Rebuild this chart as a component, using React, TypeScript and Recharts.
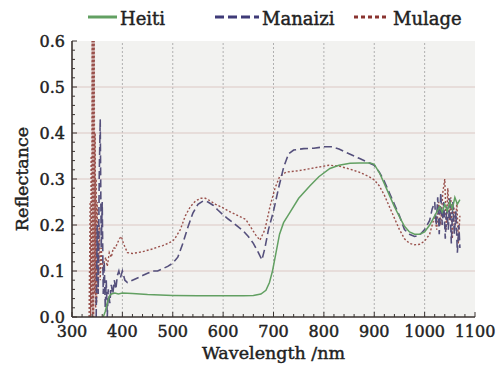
import React from "react";
import { CartesianGrid, Line, LineChart, ReferenceLine, XAxis, YAxis } from "recharts";

// wavelength (nm) / reflectance pairs
const heitiNm = [362, 366, 370, 374, 378, 385, 392, 400, 420, 450, 500, 550, 600, 640, 660, 675, 685, 692, 698, 705, 712, 720, 733, 750, 772, 790, 812, 830, 852, 870, 892, 900, 911, 920, 930, 940, 950, 960, 970, 980, 990, 1000, 1010, 1020, 1030, 1035, 1040, 1045, 1050, 1055, 1060, 1065, 1070];
const heitiR = [0, 0.012, 0.03, 0.045, 0.05, 0.052, 0.05, 0.052, 0.051, 0.049, 0.047, 0.046, 0.046, 0.046, 0.047, 0.05, 0.058, 0.075, 0.1, 0.14, 0.18, 0.205, 0.228, 0.258, 0.285, 0.305, 0.323, 0.33, 0.334, 0.335, 0.335, 0.332, 0.312, 0.29, 0.265, 0.24, 0.218, 0.197, 0.185, 0.18, 0.18, 0.185, 0.2, 0.22, 0.24, 0.228, 0.245, 0.23, 0.25, 0.235, 0.26, 0.245, 0.255];

const manaiziNm = [348, 350, 352, 354, 356, 358, 360, 362, 364, 366, 368, 370, 372, 375, 378, 381, 384, 387, 390, 393, 396, 400, 405, 410, 420, 430, 440, 450, 460, 470, 480, 490, 500, 510, 520, 530, 540, 550, 560, 570, 580, 590, 600, 610, 620, 630, 640, 650, 660, 670, 677, 683, 690, 700, 710, 720, 730, 740, 760, 780, 800, 815, 830, 850, 870, 890, 900, 910, 920, 930, 940, 950, 960, 970, 980, 990, 1000, 1010, 1015, 1020, 1023, 1026, 1029, 1032, 1035, 1038, 1041, 1044, 1047, 1050, 1053, 1056, 1059, 1062, 1065, 1068, 1070];
const manaiziR = [0, 0.2, 0.05, 0.3, 0.43, 0.15, 0.25, 0.05, 0.12, 0.02, 0.08, 0, 0.06, 0.03, 0.07, 0.05, 0.08, 0.06, 0.09, 0.1, 0.085, 0.1, 0.08, 0.075, 0.08, 0.085, 0.09, 0.095, 0.1, 0.1, 0.105, 0.11, 0.117, 0.13, 0.16, 0.195, 0.226, 0.245, 0.252, 0.25, 0.243, 0.232, 0.222, 0.213, 0.205, 0.196, 0.187, 0.175, 0.16, 0.14, 0.124, 0.15, 0.19, 0.23, 0.28, 0.325, 0.355, 0.363, 0.366, 0.367, 0.37, 0.37, 0.365, 0.355, 0.345, 0.335, 0.33, 0.315, 0.295, 0.27, 0.245, 0.22, 0.19, 0.18, 0.175, 0.178, 0.19, 0.21, 0.235, 0.25, 0.2, 0.26, 0.18, 0.27, 0.2, 0.25, 0.17, 0.24, 0.19, 0.26, 0.16, 0.25, 0.18, 0.23, 0.14, 0.2, 0.15];

const mulageNm = [334, 336, 337, 338, 339, 340, 341, 342, 343, 344, 345, 346, 347, 348, 349, 350, 352, 354, 356, 358, 361, 364, 367, 370, 374, 378, 382, 386, 390, 394, 398, 402, 406, 410, 420, 430, 440, 450, 460, 470, 480, 490, 500, 505, 515, 525, 535, 545, 555, 565, 575, 585, 600, 615, 630, 645, 655, 665, 673, 683, 693, 703, 712, 725, 750, 770, 790, 810, 830, 850, 870, 890, 900, 910, 920, 930, 940, 950, 960, 970, 980, 990, 1000, 1010, 1015, 1020, 1024, 1028, 1032, 1036, 1040, 1043, 1046, 1049, 1052, 1055, 1058, 1061, 1064, 1067, 1070];
const mulageR = [0, 0.25, 0, 0.35, 0.02, 0.7, 0, 0.7, 0, 0.7, 0.05, 0.4, 0.02, 0.3, 0.03, 0.25, 0.05, 0.2, 0.08, 0.15, 0.1, 0.12, 0.13, 0.11, 0.14, 0.13, 0.15, 0.15, 0.16, 0.17, 0.175, 0.16, 0.15, 0.14, 0.138, 0.14, 0.142, 0.145, 0.148, 0.152, 0.155, 0.16, 0.165, 0.172, 0.19, 0.22, 0.24, 0.252, 0.258, 0.258, 0.252, 0.245, 0.237, 0.228, 0.22, 0.212, 0.195, 0.178, 0.167, 0.19, 0.24, 0.28, 0.305, 0.315, 0.318, 0.322, 0.326, 0.33, 0.328, 0.322, 0.315, 0.305, 0.298, 0.285, 0.265, 0.24, 0.215, 0.19, 0.17, 0.16, 0.157, 0.158, 0.165, 0.18, 0.2, 0.22, 0.19, 0.25, 0.2, 0.27, 0.3, 0.19, 0.28, 0.21, 0.26, 0.17, 0.24, 0.2, 0.25, 0.16, 0.22];

const xMajorTicks = [300, 400, 500, 600, 700, 800, 900, 1000, 1100];
const xTicks = [300, 320, 340, 360, 380, 400, 420, 440, 460, 480, 500, 520, 540, 560, 580, 600, 620, 640, 660, 680, 700, 720, 740, 760, 780, 800, 820, 840, 860, 880, 900, 920, 940, 960, 980, 1000, 1020, 1040, 1060, 1080, 1100];
const yMajorTicks = [0, 0.1, 0.2, 0.3, 0.4, 0.5, 0.6];
const yTicks = [0, 0.02, 0.04, 0.06, 0.08, 0.1, 0.12, 0.14, 0.16, 0.18, 0.2, 0.22, 0.24, 0.26, 0.28, 0.3, 0.32, 0.34, 0.36, 0.38, 0.4, 0.42, 0.44, 0.46, 0.48, 0.5, 0.52, 0.54, 0.56, 0.58, 0.6];

const toRows = (nm: number[], r: number[]) => nm.map((w, i) => ({ nm: w, r: r[i] }));

const GREEN = "#62a062";
const NAVY = "#55507c";
const BROWN = "#9a514c";
const FRAME = "#3a3330";
const INK = "#222";
const FONT = "'DejaVu Serif', serif";
const bold = { stroke: INK, strokeWidth: 0.45 };

const isMajorX = (v: number) => xMajorTicks.includes(v);
const isMajorY = (v: number) => Math.abs(v * 10 - Math.round(v * 10)) < 1e-6;

function XTick(props: any) {
  const { x, y, payload } = props;
  const major = isMajorX(payload.value);
  return (
    <g>
      <line x1={x} x2={x} y1={y} y2={y - (major ? 5 : 3)} stroke={FRAME} strokeWidth={1} />
      {major ? (
        <text x={x} y={y + 20} textAnchor="middle" fontSize={16} fontFamily={FONT} fill={INK} {...bold}>
          {payload.value}
        </text>
      ) : null}
    </g>
  );
}

function YTick(props: any) {
  const { x, y, payload } = props;
  const major = isMajorY(payload.value);
  return (
    <g>
      <line x1={x} x2={x + (major ? 5 : 3)} y1={y} y2={y} stroke={FRAME} strokeWidth={1} />
      {major ? (
        <text x={x - 7} y={y + 6} textAnchor="end" fontSize={16} fontFamily={FONT} fill={INK} {...bold}>
          {payload.value.toFixed(1)}
        </text>
      ) : null}
    </g>
  );
}

const legendItems = [
  { name: "Heiti", color: GREEN, dash: undefined, x1: 88, x2: 117, tx: 120 },
  { name: "Manaizi", color: "#3f3b78", dash: "9 4", x1: 215, x2: 259, tx: 262 },
  { name: "Mulage", color: "#8a3430", dash: "4 3", x1: 354, x2: 388, tx: 393 },
];

export default function App() {
  return (
    <div style={{ position: "relative", width: 503, height: 365, background: "#fff" }}>
      <style>{`body{margin:0}`}</style>
      <LineChart width={503} height={365} margin={{ top: 41, right: 28, bottom: 0, left: 0 }}>
        <CartesianGrid horizontal={false} vertical={false} fill="#f2f2f0" />
        {xMajorTicks.slice(1, -1).map((v) => (
          <ReferenceLine key={`x${v}`} x={v} stroke="#b0b0b0" strokeWidth={1} strokeDasharray="2 2" />
        ))}
        {yMajorTicks.slice(1, -1).map((v) => (
          <ReferenceLine key={`y${v}`} y={v} stroke="#dcc8c4" strokeWidth={1} />
        ))}
        <XAxis
          dataKey="nm"
          type="number"
          domain={[300, 1100]}
          ticks={xTicks}
          interval={0}
          allowDataOverflow
          height={48}
          tickSize={0}
          tickMargin={0}
          tickLine={false}
          tick={<XTick />}
          axisLine={{ stroke: FRAME, strokeWidth: 1.6 }}
          label={{ value: "Wavelength /nm", position: "insideBottom", offset: 6, fontSize: 17.5, fontFamily: FONT, fill: INK, ...bold }}
        />
        <XAxis
          xAxisId="top"
          orientation="top"
          dataKey="nm"
          type="number"
          domain={[300, 1100]}
          ticks={xMajorTicks}
          interval={0}
          allowDataOverflow
          height={0}
          tick={false}
          tickLine={false}
          axisLine={{ stroke: FRAME, strokeWidth: 1.6 }}
        />
        <YAxis
          type="number"
          domain={[0, 0.6]}
          ticks={yTicks}
          interval={0}
          allowDataOverflow
          width={72}
          tickSize={0}
          tickMargin={0}
          tickLine={false}
          tick={<YTick />}
          axisLine={{ stroke: FRAME, strokeWidth: 1.6 }}
          label={{ value: "Reflectance", angle: -90, position: "insideLeft", offset: 22, fontSize: 17.5, fontFamily: FONT, fill: INK, ...bold, style: { textAnchor: "middle" } }}
        />
        <YAxis
          yAxisId="right"
          orientation="right"
          type="number"
          domain={[0, 0.6]}
          ticks={yMajorTicks}
          interval={0}
          allowDataOverflow
          width={0}
          tick={false}
          tickLine={false}
          axisLine={{ stroke: FRAME, strokeWidth: 1.6 }}
        />
        <Line data={toRows(mulageNm, mulageR)} dataKey="r" stroke={BROWN} strokeWidth={1.4} strokeDasharray="2 2" dot={false} isAnimationActive={false} />
        <Line data={toRows(manaiziNm, manaiziR)} dataKey="r" stroke={NAVY} strokeWidth={1.6} strokeDasharray="8 4" dot={false} isAnimationActive={false} />
        <Line data={toRows(heitiNm, heitiR)} dataKey="r" stroke={GREEN} strokeWidth={1.5} dot={false} isAnimationActive={false} />
      </LineChart>
      <svg width={503} height={36} style={{ position: "absolute", left: 0, top: 0, pointerEvents: "none" }}>
        {legendItems.map((it) => (
          <g key={it.name}>
            <line x1={it.x1} x2={it.x2} y1={17} y2={17} stroke={it.color} strokeWidth={3} strokeDasharray={it.dash} />
            <text x={it.tx} y={25} fontSize={18} fontFamily={FONT} fill={INK} {...bold}>
              {it.name}
            </text>
          </g>
        ))}
      </svg>
    </div>
  );
}
